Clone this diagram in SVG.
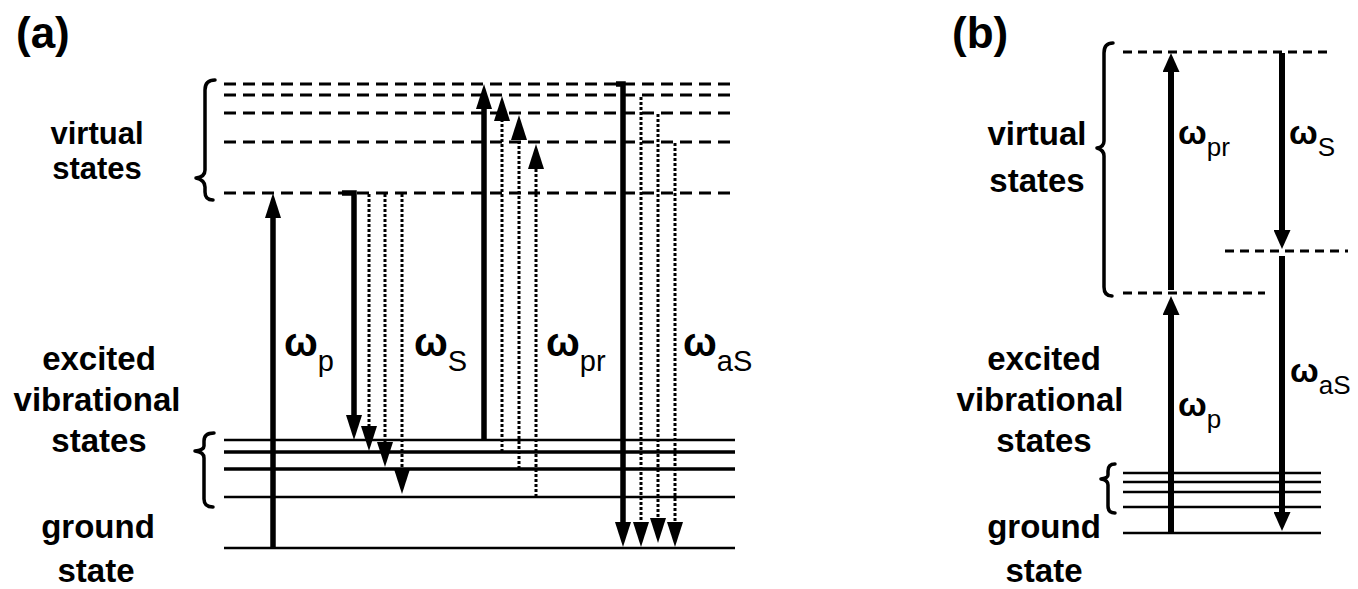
<svg xmlns="http://www.w3.org/2000/svg" width="1358" height="589" viewBox="0 0 1358 589">
<style>
.lbl{font-family:"Liberation Sans",Arial,sans-serif;font-weight:bold;font-size:33px;fill:#000;text-anchor:middle}
.lbs{font-family:"Liberation Sans",Arial,sans-serif;font-weight:bold;font-size:31px;fill:#000;text-anchor:middle}
.pan{font-family:"Liberation Sans",Arial,sans-serif;font-weight:bold;font-size:44px;fill:#000}
.om{font-family:"Liberation Sans",Arial,sans-serif;font-weight:bold;font-size:40px;fill:#000}
.sub{font-family:"Liberation Sans",Arial,sans-serif;font-size:29px;fill:#000}
.omb{font-family:"Liberation Sans",Arial,sans-serif;font-weight:bold;font-size:34px;fill:#000}
.subb{font-family:"Liberation Sans",Arial,sans-serif;font-size:26px;fill:#000}
.dash{stroke:#000;stroke-width:3;stroke-dasharray:12 7;fill:none}
.dashb{stroke:#000;stroke-width:3;stroke-dasharray:9 6;fill:none}
.lvl{stroke:#000;stroke-width:2.5;fill:none}
.lvlt{stroke:#000;stroke-width:3.5;fill:none}
.brace{stroke:#000;stroke-width:3.5;fill:none;stroke-linejoin:round;stroke-linecap:round}
.sol{stroke:#000;stroke-width:5.5;fill:none;marker-end:url(#ha)}
.dot{stroke:#000;stroke-width:3;stroke-dasharray:3 2;fill:none;marker-end:url(#ha)}
.solb{stroke:#000;stroke-width:6;fill:none;marker-end:url(#hb)}
</style>
<defs>
<marker id="ha" viewBox="0 0 25 16" refX="1" refY="8" markerWidth="25" markerHeight="16" markerUnits="userSpaceOnUse" orient="auto"><path d="M0,0 L25,8 L0,16 z" fill="#000"/></marker>
<marker id="hb" viewBox="0 0 19 17" refX="1" refY="8.5" markerWidth="19" markerHeight="17" markerUnits="userSpaceOnUse" orient="auto"><path d="M0,0 L19,8.5 L0,17 z" fill="#000"/></marker>
</defs>
<rect width="1358" height="589" fill="#fff"/>

<!-- Panel (a) -->
<g id="panel-a-label"><text class="pan" x="16" y="48">(a)</text></g>

<g id="a-virtual-states">
<text class="lbs" x="97" y="144">virtual</text>
<text class="lbs" x="97" y="179">states</text>
<path class="brace" d="M215,80 Q205,80 205,90 L205,170 Q205,177 196,178 Q205,180 205,187 L205,192 Q205,200 213,200"/>
<line class="dash" x1="224" y1="84" x2="735" y2="84"/>
<line class="dash" x1="224" y1="95" x2="735" y2="95"/>
<line class="dash" x1="224" y1="113" x2="735" y2="113"/>
<line class="dash" x1="224" y1="142" x2="735" y2="142"/>
<line class="dash" x1="224" y1="193" x2="735" y2="193"/>
</g>

<g id="a-excited-states">
<text class="lbl" x="99" y="370">excited</text>
<text class="lbl" x="97" y="411">vibrational</text>
<text class="lbl" x="99" y="452">states</text>
<path class="brace" d="M214,433 Q204,433 204,441 L204,446 Q204,450 195,451 Q204,452 204,458 L204,499 Q204,507 213,507"/>
<line class="lvl" x1="224" y1="440" x2="735" y2="440"/>
<line class="lvlt" x1="224" y1="452" x2="735" y2="452"/>
<line class="lvlt" x1="224" y1="469" x2="735" y2="469"/>
<line class="lvl" x1="224" y1="497" x2="735" y2="497"/>
</g>

<g id="a-ground-state">
<text class="lbl" x="98" y="538">ground</text>
<text class="lbl" x="96" y="582">state</text>
<line class="lvl" x1="224" y1="548" x2="735" y2="548"/>
</g>

<g id="a-connectors">
<line class="sol" x1="273" y1="548" x2="273" y2="217"/>
<path class="sol" d="M342,193 H354 V416"/>
<line class="dot" x1="369" y1="194" x2="369" y2="427"/>
<line class="dot" x1="385" y1="194" x2="385" y2="443"/>
<line class="dot" x1="402" y1="194" x2="402" y2="470"/>
<line class="sol" x1="484" y1="440" x2="484" y2="108"/>
<line class="dot" x1="502" y1="452" x2="502" y2="120"/>
<line class="dot" x1="519" y1="469" x2="519" y2="139"/>
<line class="dot" x1="536" y1="497" x2="536" y2="168"/>
<path class="sol" d="M616,84 H623 V523"/>
<line class="dot" x1="641" y1="97" x2="641" y2="523"/>
<line class="dot" x1="658" y1="114" x2="658" y2="519"/>
<line class="dot" x1="675" y1="143" x2="675" y2="523"/>
</g>

<g id="a-omega-labels">
<text x="284" y="356"><tspan class="om">ω</tspan><tspan class="sub" dy="15">p</tspan></text>
<text x="414" y="356"><tspan class="om">ω</tspan><tspan class="sub" dy="15">S</tspan></text>
<text x="546" y="356"><tspan class="om">ω</tspan><tspan class="sub" dy="15">pr</tspan></text>
<text x="683" y="356"><tspan class="om">ω</tspan><tspan class="sub" dy="15">aS</tspan></text>
</g>

<!-- Panel (b) -->
<g id="panel-b-label"><text class="pan" x="952" y="48">(b)</text></g>

<g id="b-virtual-states">
<text class="lbl" x="1037" y="145">virtual</text>
<text class="lbl" x="1037" y="192">states</text>
<path class="brace" d="M1113,43 Q1104,43 1104,53 L1104,141 Q1104,147 1097,148 Q1104,150 1104,156 L1104,287 Q1104,296 1112,296"/>
<line class="dashb" x1="1123" y1="52" x2="1330" y2="52"/>
<line class="dashb" x1="1225" y1="251" x2="1348" y2="251"/>
<line class="dashb" x1="1123" y1="293" x2="1265" y2="293"/>
</g>

<g id="b-excited-states">
<text class="lbl" x="1044" y="370">excited</text>
<text class="lbl" x="1040" y="411">vibrational</text>
<text class="lbl" x="1044" y="452">states</text>
<path class="brace" d="M1115,464 Q1108,464 1108,471 L1108,475 Q1108,478 1101,479 Q1108,480 1108,485 L1108,506 Q1108,513 1115,513"/>
<line class="lvl" x1="1123" y1="473" x2="1321" y2="473"/>
<line class="lvl" x1="1123" y1="482" x2="1321" y2="482"/>
<line class="lvl" x1="1123" y1="492" x2="1321" y2="492"/>
<line class="lvl" x1="1123" y1="507" x2="1321" y2="507"/>
</g>

<g id="b-ground-state">
<text class="lbl" x="1044" y="538">ground</text>
<text class="lbl" x="1044" y="582">state</text>
<line class="lvl" x1="1123" y1="533" x2="1321" y2="533"/>
</g>

<g id="b-connectors">
<line class="solb" x1="1171" y1="533" x2="1171" y2="314"/>
<line class="solb" x1="1171" y1="290" x2="1171" y2="71"/>
<line class="solb" x1="1282" y1="53" x2="1282" y2="231"/>
<line class="solb" x1="1282" y1="256" x2="1282" y2="513"/>
</g>

<g id="b-omega-labels">
<text x="1178" y="144"><tspan class="omb">ω</tspan><tspan class="subb" dy="12">pr</tspan></text>
<text x="1289" y="144"><tspan class="omb">ω</tspan><tspan class="subb" dy="12">S</tspan></text>
<text x="1178" y="416"><tspan class="omb">ω</tspan><tspan class="subb" dy="12">p</tspan></text>
<text x="1290" y="382"><tspan class="omb">ω</tspan><tspan class="subb" dy="12">aS</tspan></text>
</g>
</svg>
